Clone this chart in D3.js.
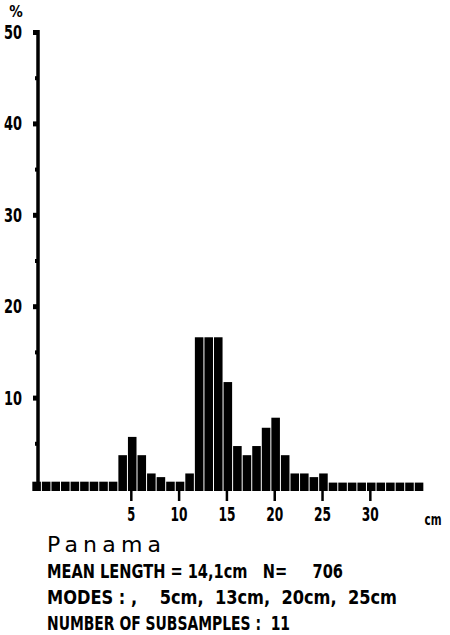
<!DOCTYPE html>
<html>
<head>
<meta charset="utf-8">
<script src="https://cdn.jsdelivr.net/npm/d3@7"></script>
<style>
  body { margin: 0; background: #fff; }
  svg { display: block; }
  .lbl { font-family: "DejaVu Sans Condensed", "DejaVu Sans", sans-serif; font-weight: bold; fill: #000; }
</style>
</head>
<body>
<div id="wrapper"></div>
<script>
// length classes (cm) and share of the sample (%)
const lengthClasses = d3.range(-5, 36);
const percentages = [
  0.8, 0.8, 0.8, 0.8, 0.8, 0.8, 0.8, 0.8, 0.8,   // -5 .. 3
  3.7, 5.7, 3.7, 1.7, 1.3, 0.8, 0.8, 1.7,        // 4 .. 11
  16.6, 16.6, 16.6, 11.7, 4.7, 3.7, 4.7, 6.7,    // 12 .. 19
  7.8, 3.7, 1.7, 1.7, 1.3, 1.7,                  // 20 .. 25
  0.7, 0.7, 0.7, 0.7, 0.7, 0.7, 0.7, 0.7, 0.7, 0.7 // 26 .. 35
];
const xTicks = [5, 10, 15, 20, 25, 30];
const yTicks = [10, 20, 30, 40, 50];
const yMinorTicks = [5, 15, 25, 35, 45];
const infoLines = [
  "MEAN LENGTH = 14,1cm   N=     706",
  "MODES : ,    5cm,  13cm,  20cm,  25cm",
  "NUMBER OF SUBSAMPLES :  11"
];
const infoWidths = [296, 350, 243];

const dims = { width: 450, height: 635 };

const svg = d3.select('#wrapper').append('svg')
  .attr('width', dims.width)
  .attr('height', dims.height);

// scales
const xScale = d3.scaleLinear().domain([-5, 36]).range([35.2, 427.2]);
const yScale = d3.scaleLinear().domain([0, 50]).range([489, 32]);
const barW = xScale(1) - xScale(0);

// bars
svg.append('g')
  .selectAll('rect')
  .data(lengthClasses)
  .join('rect')
  .attr('x', (d) => xScale(d - 0.3))
  .attr('y', (d, i) => yScale(percentages[i]))
  .attr('width', barW - 1)
  .attr('height', (d, i) => yScale(0) - yScale(percentages[i]) + 2)
  .attr('fill', '#000');

// y axis
const yAxis = svg.append('g')
  .attr('transform', `translate(38,0)`)
  .call(d3.axisLeft(yScale).tickValues(yTicks).tickSize(5).tickFormat(''));
yAxis.select('.domain').attr('stroke-width', 3.5).attr('d', `M0,${yScale(50) - 2}V${yScale(0) + 2}`);
yAxis.selectAll('.tick line').attr('stroke-width', 5);

const yMinor = svg.append('g')
  .attr('transform', `translate(38,0)`)
  .call(d3.axisLeft(yScale).tickValues(yMinorTicks).tickSize(3).tickFormat(''));
yMinor.select('.domain').remove();
yMinor.selectAll('.tick line').attr('stroke-width', 4);

svg.append('g')
  .selectAll('text')
  .data(yTicks)
  .join('text')
  .attr('class', 'lbl')
  .attr('x', 4)
  .attr('y', (d) => yScale(d) + 7)
  .attr('font-size', 19)
  .attr('textLength', 18)
  .attr('lengthAdjust', 'spacingAndGlyphs')
  .text((d) => d);

svg.append('text')
  .attr('class', 'lbl')
  .attr('x', 16)
  .attr('y', 17)
  .attr('text-anchor', 'middle')
  .attr('font-size', 15)
  .text('%');

// x axis
const xAxis = svg.append('g')
  .attr('transform', `translate(0,${yScale(0)})`)
  .call(d3.axisBottom(xScale).tickValues(xTicks).tickSize(12).tickPadding(7));
xAxis.select('.domain').remove();
xAxis.selectAll('.tick line').attr('stroke-width', 2.5);
xAxis.selectAll('.tick text')
  .attr('class', 'lbl')
  .attr('font-size', 19)
  .attr('textLength', (d) => d < 10 ? 8 : 17)
  .attr('lengthAdjust', 'spacingAndGlyphs');

svg.append('text')
  .attr('class', 'lbl')
  .attr('x', 433)
  .attr('y', 525)
  .attr('text-anchor', 'middle')
  .attr('font-size', 16)
  .attr('textLength', 17)
  .attr('lengthAdjust', 'spacingAndGlyphs')
  .text('cm');

// caption
svg.append('text')
  .attr('x', 47)
  .attr('y', 552)
  .attr('font-family', 'DejaVu Sans, sans-serif')
  .attr('font-size', 22)
  .attr('textLength', 114)
  .attr('lengthAdjust', 'spacing')
  .text('Panama');

svg.append('g')
  .selectAll('text')
  .data(infoLines)
  .join('text')
  .attr('class', 'lbl')
  .attr('x', 47)
  .attr('y', (d, i) => 578 + i * 26)
  .attr('font-size', 20)
  .attr('textLength', (d, i) => infoWidths[i])
  .attr('lengthAdjust', 'spacingAndGlyphs')
  .style('white-space', 'pre')
  .text((d) => d);
</script>
</body>
</html>
